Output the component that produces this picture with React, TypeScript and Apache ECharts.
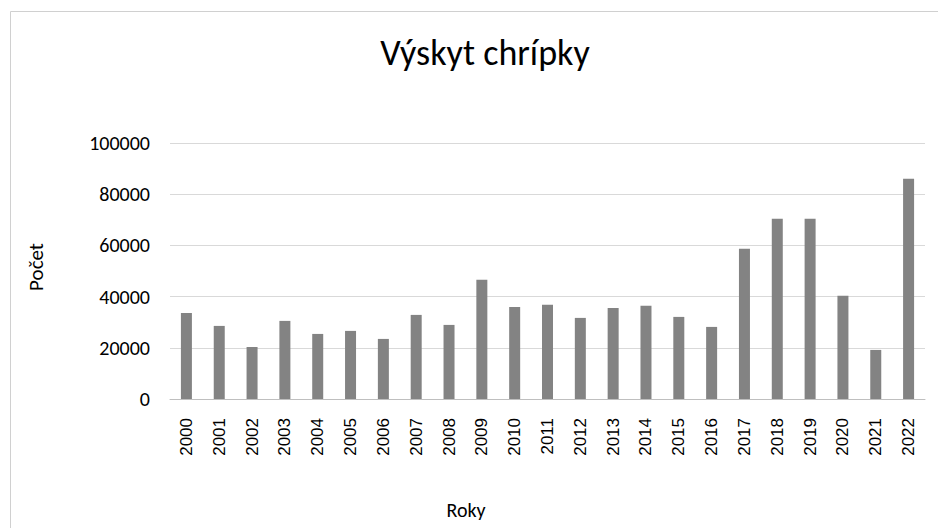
import React, { useEffect, useRef } from "react";
import * as echarts from "echarts";

const years = ["2000","2001","2002","2003","2004","2005","2006","2007","2008","2009","2010","2011","2012","2013","2014","2015","2016","2017","2018","2019","2020","2021","2022"];
const counts = [33640, 28550, 20340, 30510, 25420, 26600, 23470, 32850, 28940, 46550, 35980, 36770, 31680, 35590, 36380, 32070, 28160, 58670, 70400, 70400, 40290, 19170, 86050];
const yTicks = { min: 0, max: 100000, interval: 20000 };

const FONT = "Carlito, Lato, 'Open Sans', sans-serif";
const XFONT = "'Liberation Sans', Arial, sans-serif";

export default function App() {
  const ref = useRef<HTMLDivElement>(null);
  useEffect(() => {
    const chart = echarts.init(ref.current!, null, { renderer: "svg" });
    chart.setOption({
      animation: false,
      backgroundColor: "#ffffff",
      title: {
        text: "Výskyt chrípky",
        left: 480,
        textAlign: "center",
        top: 30,
        textStyle: { fontFamily: FONT, fontSize: 36, fontWeight: "normal", color: "#000000" },
      },
      graphic: [
        {
          type: "rect",
          shape: { x: 10.5, y: 11.5, width: 940, height: 530 },
          style: { fill: "none", stroke: "#d0d0d0", lineWidth: 1 },
          silent: true,
        },
        {
          type: "text",
          x: 36,
          y: 267,
          rotation: Math.PI / 2,
          style: {
            text: "Počet",
            fontFamily: FONT,
            fontSize: 21,
            fill: "#000000",
            align: "center",
            verticalAlign: "middle",
          },
          silent: true,
        },
        {
          type: "text",
          x: 466,
          y: 510,
          style: {
            text: "Roky",
            fontFamily: FONT,
            fontSize: 20,
            fill: "#000000",
            align: "center",
            verticalAlign: "middle",
          },
          silent: true,
        },
      ],
      grid: { left: 170, right: 13, top: 143, bottom: 129 },
      xAxis: {
        type: "category",
        data: years,
        axisLine: { lineStyle: { color: "#bfbfbf" } },
        axisTick: { show: false },
        axisLabel: { rotate: 90, margin: 19, fontFamily: XFONT, fontSize: 17, color: "#000000", interval: 0 },
      },
      yAxis: {
        type: "value",
        min: yTicks.min,
        max: yTicks.max,
        interval: yTicks.interval,
        axisLine: { show: false },
        axisTick: { show: false },
        axisLabel: {
          margin: 20,
          fontFamily: FONT,
          fontSize: 20,
          color: "#000000",
          formatter: (v: number) => String(v),
        },
        splitLine: { lineStyle: { color: "#d9d9d9" } },
      },
      series: [
        {
          type: "bar",
          data: counts,
          barWidth: 11,
          itemStyle: { color: "#838383" },
        },
      ],
    });
    return () => chart.dispose();
  }, []);
  return <div ref={ref} style={{ position: "absolute", left: 0, top: 0, width: 938, height: 528 }} />;
}
